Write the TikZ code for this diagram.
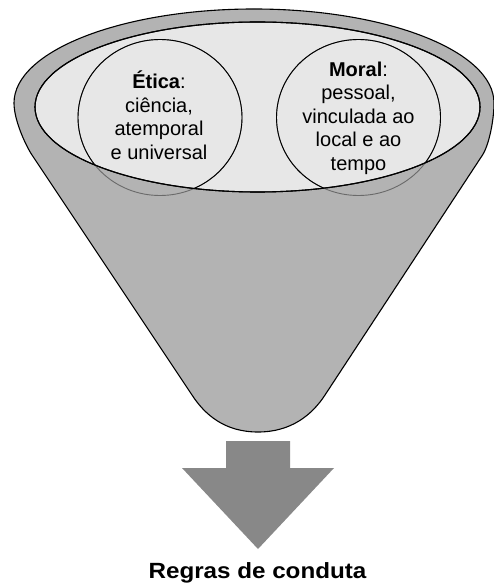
\documentclass[tikz,border=0pt]{standalone}
\usepackage{fontspec}
\setmainfont{Liberation Sans}
\definecolor{funnelc}{HTML}{B3B3B3}
\definecolor{innerc}{HTML}{E7E7E7}
\definecolor{arrowc}{HTML}{888888}
\definecolor{faintc}{HTML}{6A6A6A}
\tikzset{
  funnelbody/.style={fill=funnelc, draw=black, line width=1.1pt, line join=round},
  mouth/.style={fill=innerc, draw=black, line width=1.1pt},
  ringline/.style={draw=#1, line width=0.9pt},
  label/.style={align=center, text=black, inner sep=0pt, font=\fontsize{20}{23.5}\selectfont},
  bigarrow/.style={fill=arrowc, draw=none},
}
\begin{document}
\begin{tikzpicture}[x=1pt,y=-1pt]
\useasboundingbox (0,0) rectangle (494,585);
% funnel body
\path[funnelbody] (192,395) -- (32,155) .. controls (25.4,145) and (14,120) .. (14,103)
  arc[start angle=180, end angle=360, x radius=240, y radius=94]
  .. controls (494,120) and (489,145) .. (482.5,155) -- (325,395)
  .. controls (312,415) and (291,432) .. (258,432)
  .. controls (225,432) and (205,415) .. (192,395) -- cycle;
% mouth
\path[mouth] (257.5,107) ellipse [x radius=222.5, y radius=85];
% circles: faint outside mouth, black inside
\path[ringline=faintc] (160,117.5) ellipse [x radius=82, y radius=78];
\path[ringline=faintc] (358.5,117.5) ellipse [x radius=82, y radius=78];
\begin{scope}
  \clip (257.5,107) ellipse [x radius=222.5, y radius=85];
  \path[ringline=black] (160,117.5) ellipse [x radius=82, y radius=78];
  \path[ringline=black] (358.5,117.5) ellipse [x radius=82, y radius=78];
\end{scope}
\path[draw=black, line width=1.1pt] (257.5,107) ellipse [x radius=222.5, y radius=85];
% texts
\node[label] (etica) at (159,115.3) {\textbf{Ética}:\\ciência,\\atemporal\\e universal};
\node[label] (moral) at (358.5,118) {\textbf{Moral}:\\pessoal,\\vinculada ao\\local e ao\\tempo};
% arrow
\path[bigarrow] (226,441) -- (290,441) -- (290,468) -- (334,468) -- (258,549) -- (182,468) -- (226,468) -- cycle;
\node[anchor=base, inner sep=0pt, font=\fontsize{22}{26}\selectfont\bfseries] (regras) at (257.5,578) {\scalebox{1.1}[1]{Regras de conduta}};
\end{tikzpicture}
\end{document}
